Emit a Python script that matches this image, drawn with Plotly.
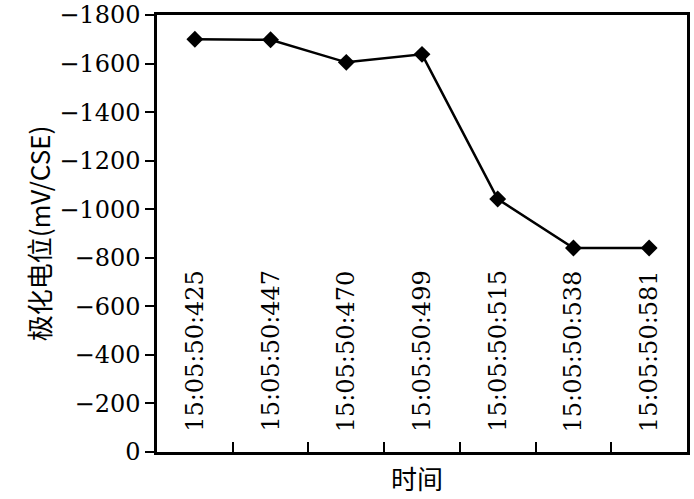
import plotly.graph_objects as go

times = ["15:05:50:425", "15:05:50:447", "15:05:50:470", "15:05:50:499",
         "15:05:50:515", "15:05:50:538", "15:05:50:581"]
potential = [-1700, -1698, -1605, -1638, -1042, -840, -840]
y_ticks = [0, -200, -400, -600, -800, -1000, -1200, -1400, -1600, -1800]

FONT = "DejaVu Serif"
CJK = "Noto Sans CJK SC"

fig = go.Figure()
fig.add_trace(go.Scatter(
    x=times, y=potential, mode="lines+markers",
    line=dict(color="black", width=2.5),
    marker=dict(symbol="diamond", size=13, color="black"),
    showlegend=False,
))

for t in times:
    fig.add_annotation(x=t, y=0, text=t, textangle=-90, showarrow=False,
                       xanchor="center", yanchor="bottom", yshift=18,
                       font=dict(family=FONT, size=24, color="black"))

# axis titles
fig.add_annotation(xref="paper", yref="paper", x=-0.223, y=0.5,
                   text="极化电位(mV/CSE)", textangle=-90, showarrow=False,
                   xanchor="center", yanchor="middle",
                   font=dict(family=CJK, size=26, color="black"))
fig.add_annotation(xref="paper", yref="paper", x=0.49, y=-0.058,
                   text="时间", showarrow=False,
                   xanchor="center", yanchor="middle",
                   font=dict(family=CJK, size=26, color="black"))

fig.update_layout(
    width=694, height=499,
    margin=dict(l=157, r=7, t=15, b=47),
    paper_bgcolor="white", plot_bgcolor="white",
    font=dict(family=FONT, size=24, color="black"),
)
fig.update_xaxes(
    type="category", range=[-0.5, 6.5], showticklabels=False,
    ticks="inside", tickson="boundaries", ticklen=10, tickwidth=2, tickcolor="black",
    showline=True, linecolor="black", linewidth=2.5, mirror=True,
    showgrid=False, zeroline=False, automargin=False,
)
fig.update_yaxes(
    range=[0, -1800], tickmode="array", tickvals=y_ticks,
    ticks="outside", ticklen=9, tickwidth=2, tickcolor="black",
    showline=True, linecolor="black", linewidth=2.5, mirror=True,
    showgrid=False, zeroline=False, ticklabeloverflow="allow", automargin=False,
    tickfont=dict(family=FONT, size=24),
)

fig.write_html("out.html")
